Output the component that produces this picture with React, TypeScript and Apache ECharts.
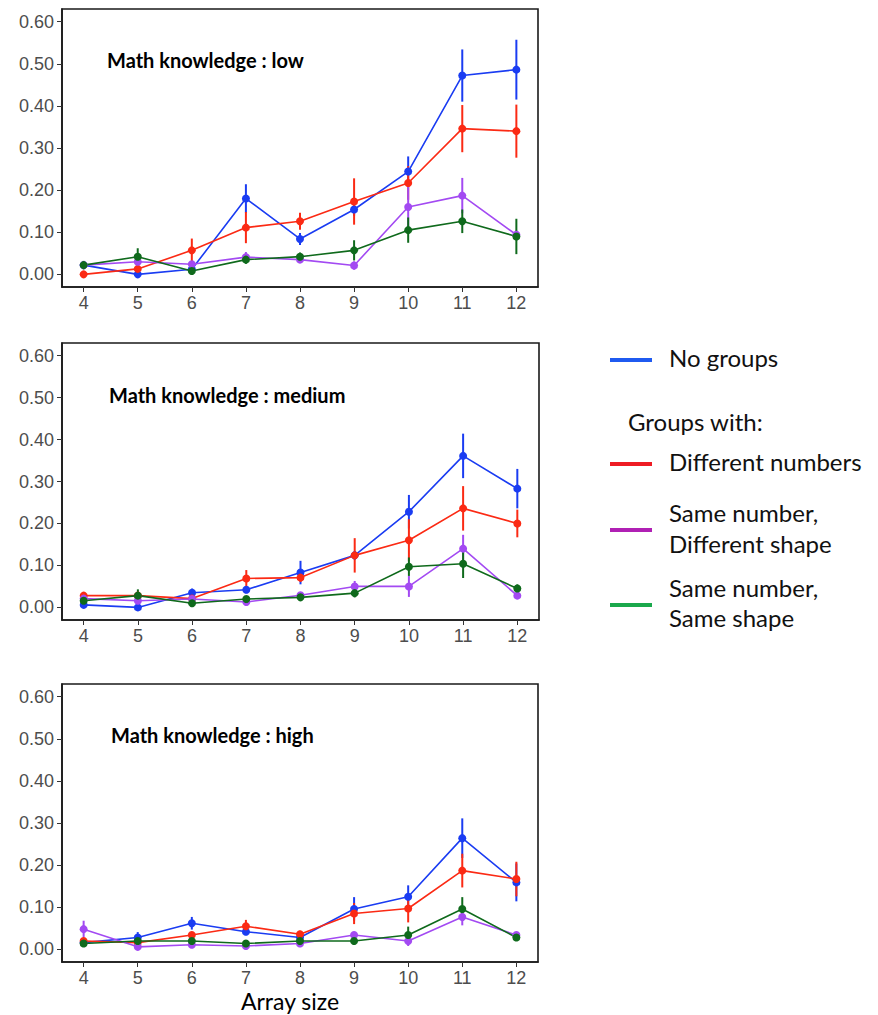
import React, { useEffect, useRef } from "react";
import * as echarts from "echarts";

const sizes = [4, 5, 6, 7, 8, 9, 10, 11, 12];
const yTicks = [0, 0.1, 0.2, 0.3, 0.4, 0.5, 0.6];
const panelTitles = ["Math knowledge : low", "Math knowledge : medium", "Math knowledge : high"];
const seriesNames = ["No groups", "Different numbers", "Same number, Different shape", "Same number, Same shape"];

// Low
const noGroupsLow = [0.022, 0.0, 0.012, 0.18, 0.084, 0.154, 0.244, 0.472, 0.486];
const noGroupsLowErr = [0.008, 0.006, 0.008, 0.034, 0.014, 0.015, 0.036, 0.062, 0.071];
const diffNumLow = [0.0, 0.013, 0.057, 0.111, 0.126, 0.173, 0.217, 0.346, 0.34];
const diffNumLowErr = [0.005, 0.012, 0.028, 0.037, 0.02, 0.055, 0.04, 0.056, 0.063];
const diffShapeLow = [0.022, 0.03, 0.024, 0.041, 0.035, 0.021, 0.16, 0.187, 0.094];
const diffShapeLowErr = [0.008, 0.008, 0.008, 0.012, 0.008, 0.01, 0.05, 0.042, 0.01];
const sameShapeLow = [0.022, 0.042, 0.008, 0.035, 0.042, 0.057, 0.105, 0.126, 0.09];
const sameShapeLowErr = [0.01, 0.02, 0.008, 0.01, 0.01, 0.024, 0.03, 0.028, 0.042];

// Medium
const noGroupsMed = [0.006, 0.0, 0.035, 0.042, 0.083, 0.124, 0.228, 0.361, 0.283];
const noGroupsMedErr = [0.005, 0.005, 0.01, 0.008, 0.028, 0.01, 0.04, 0.053, 0.047];
const diffNumMed = [0.028, 0.028, 0.021, 0.069, 0.071, 0.124, 0.16, 0.236, 0.2];
const diffNumMedErr = [0.008, 0.006, 0.006, 0.02, 0.01, 0.041, 0.05, 0.053, 0.033];
const diffShapeMed = [0.021, 0.016, 0.02, 0.013, 0.029, 0.05, 0.05, 0.14, 0.028];
const diffShapeMedErr = [0.006, 0.006, 0.006, 0.006, 0.006, 0.013, 0.025, 0.033, 0.006];
const sameShapeMed = [0.016, 0.028, 0.01, 0.02, 0.024, 0.034, 0.097, 0.104, 0.045];
const sameShapeMedErr = [0.006, 0.015, 0.006, 0.006, 0.006, 0.01, 0.022, 0.034, 0.01];

// High
const noGroupsHigh = [0.016, 0.028, 0.062, 0.042, 0.028, 0.096, 0.125, 0.264, 0.159];
const noGroupsHighErr = [0.006, 0.013, 0.015, 0.008, 0.006, 0.028, 0.027, 0.047, 0.045];
const diffNumHigh = [0.02, 0.016, 0.034, 0.055, 0.036, 0.085, 0.097, 0.187, 0.167];
const diffNumHighErr = [0.006, 0.006, 0.008, 0.015, 0.008, 0.025, 0.033, 0.04, 0.041];
const diffShapeHigh = [0.048, 0.006, 0.011, 0.008, 0.014, 0.034, 0.02, 0.077, 0.034];
const diffShapeHighErr = [0.02, 0.005, 0.005, 0.005, 0.005, 0.008, 0.012, 0.02, 0.008];
const sameShapeHigh = [0.014, 0.02, 0.02, 0.014, 0.02, 0.02, 0.034, 0.096, 0.028];
const sameShapeHighErr = [0.005, 0.005, 0.005, 0.005, 0.005, 0.006, 0.02, 0.028, 0.006];

const panels = [
  [
    [noGroupsLow, noGroupsLowErr],
    [diffNumLow, diffNumLowErr],
    [diffShapeLow, diffShapeLowErr],
    [sameShapeLow, sameShapeLowErr],
  ],
  [
    [noGroupsMed, noGroupsMedErr],
    [diffNumMed, diffNumMedErr],
    [diffShapeMed, diffShapeMedErr],
    [sameShapeMed, sameShapeMedErr],
  ],
  [
    [noGroupsHigh, noGroupsHighErr],
    [diffNumHigh, diffNumHighErr],
    [diffShapeHigh, diffShapeHighErr],
    [sameShapeHigh, sameShapeHighErr],
  ],
];

const plotColors = ["#1a3cf2", "#fb2a14", "#a34af2", "#0f6a1c"];
const legendColors = ["#1f5af0", "#ee1c24", "#b020b4", "#1aa84c"];

const gridPos = [
  { left: 62, top: 9, width: 476, height: 278 },
  { left: 62, top: 343, width: 477, height: 277 },
  { left: 62, top: 684, width: 476, height: 278 },
];
const titlePos = [
  { x: 107, y: 60 },
  { x: 109, y: 395 },
  { x: 111, y: 735 },
];

export default function App() {
  const ref = useRef<HTMLDivElement>(null);
  useEffect(() => {
    if (!ref.current) return;
    const chart = echarts.init(ref.current, null, { renderer: "svg" });
    const grids: any[] = [];
    const xAxes: any[] = [];
    const yAxes: any[] = [];
    const series: any[] = [];
    const graphics: any[] = [];
    const labelFont = "'Liberation Sans', Arial, sans-serif";
    const frameLine = { show: true, onZero: false, lineStyle: { color: "#1a1a1a", width: 1.6 } };
    gridPos.forEach((g, i) => {
      grids.push({
        ...g,
        show: true,
        borderColor: "#1a1a1a",
        borderWidth: 1.6,
        backgroundColor: "#ffffff",
      });
      xAxes.push({
        type: "value",
        gridIndex: i,
        min: 3.6,
        max: 12.4,
        position: "bottom",
        axisLine: frameLine,
        splitLine: { show: false },
        axisTick: { show: true, inside: false, customValues: sizes, length: 5, lineStyle: { color: "#333", width: 1 } },
        axisLabel: {
          customValues: sizes,
          color: "#4d4d4d",
          fontSize: 18,
          lineHeight: 18,
          fontFamily: labelFont,
          margin: 7,
        },
      });
      yAxes.push({
        type: "value",
        gridIndex: i,
        min: -0.03,
        max: 0.63,
        position: "left",
        axisLine: frameLine,
        splitLine: { show: false },
        axisTick: { show: true, inside: false, customValues: yTicks, length: 5, lineStyle: { color: "#333", width: 1 } },
        axisLabel: {
          customValues: yTicks,
          color: "#4d4d4d",
          fontSize: 18,
          fontFamily: labelFont,
          margin: 8,
          formatter: (v: number) => v.toFixed(2),
        },
      });
      panels[i].forEach(([vals, errs], s) => {
        const color = plotColors[s];
        series.push({
          name: seriesNames[s],
          type: "custom",
          xAxisIndex: i,
          yAxisIndex: i,
          data: sizes.map((x, k) => [x, vals[k] - errs[k], vals[k] + errs[k]]),
          renderItem: (params: any, api: any) => {
            const x = api.value(0);
            const p1 = api.coord([x, api.value(1)]);
            const p2 = api.coord([x, api.value(2)]);
            return {
              type: "line",
              shape: { x1: p1[0], y1: p1[1], x2: p2[0], y2: p2[1] },
              style: { stroke: color, lineWidth: 2 },
            };
          },
          z: 2,
        });
        series.push({
          name: seriesNames[s],
          type: "line",
          xAxisIndex: i,
          yAxisIndex: i,
          data: sizes.map((x, k) => [x, vals[k]]),
          symbol: "circle",
          symbolSize: 8,
          showSymbol: true,
          itemStyle: { color },
          lineStyle: { color, width: 1.6 },
          z: 3,
        });
      });
      graphics.push({
        type: "text",
        x: titlePos[i].x,
        y: titlePos[i].y,
        style: {
          text: panelTitles[i],
          font: "bold 20px Lato, 'Open Sans', sans-serif",
          fill: "#000",
          verticalAlign: "middle",
        },
        z: 10,
      });
    });

    graphics.push({
      type: "text",
      x: 290,
      y: 1001,
      style: {
        text: "Array size",
        font: "23px Lato, 'Open Sans', sans-serif",
        lineHeight: 24,
        fill: "#000",
        align: "center",
        verticalAlign: "middle",
      },
    });

    const legendItems = [
      { lineY: 360, lines: [{ t: "No groups", y: 357 }], c: legendColors[0] },
      { lineY: 464, lines: [{ t: "Different numbers", y: 461 }], c: legendColors[1] },
      { lineY: 530, lines: [{ t: "Same number,", y: 512 }, { t: "Different shape", y: 543 }], c: legendColors[2] },
      { lineY: 605, lines: [{ t: "Same number,", y: 587 }, { t: "Same shape", y: 617 }], c: legendColors[3] },
    ];
    const legendFont = "24px Lato, 'Open Sans', sans-serif";
    legendItems.forEach((it) => {
      graphics.push({
        type: "line",
        shape: { x1: 610, y1: it.lineY, x2: 652, y2: it.lineY },
        style: { stroke: it.c, lineWidth: 4 },
      });
      it.lines.forEach((l) => {
        graphics.push({
          type: "text",
          x: 669,
          y: l.y,
          style: {
            text: l.t,
            font: legendFont,
            fill: "#111",
            verticalAlign: "middle",
          },
        });
      });
    });
    graphics.push({
      type: "text",
      x: 628,
      y: 421,
      style: {
        text: "Groups with:",
        font: legendFont,
        fill: "#111",
        verticalAlign: "middle",
      },
    });

    chart.setOption({
      animation: false,
      backgroundColor: "#ffffff",
      grid: grids,
      xAxis: xAxes,
      yAxis: yAxes,
      series,
      graphic: graphics,
    });
    return () => chart.dispose();
  }, []);
  return (
    <div
      ref={ref}
      style={{ position: "fixed", left: 0, top: 0, width: 878, height: 1015, background: "#fff" }}
    />
  );
}
